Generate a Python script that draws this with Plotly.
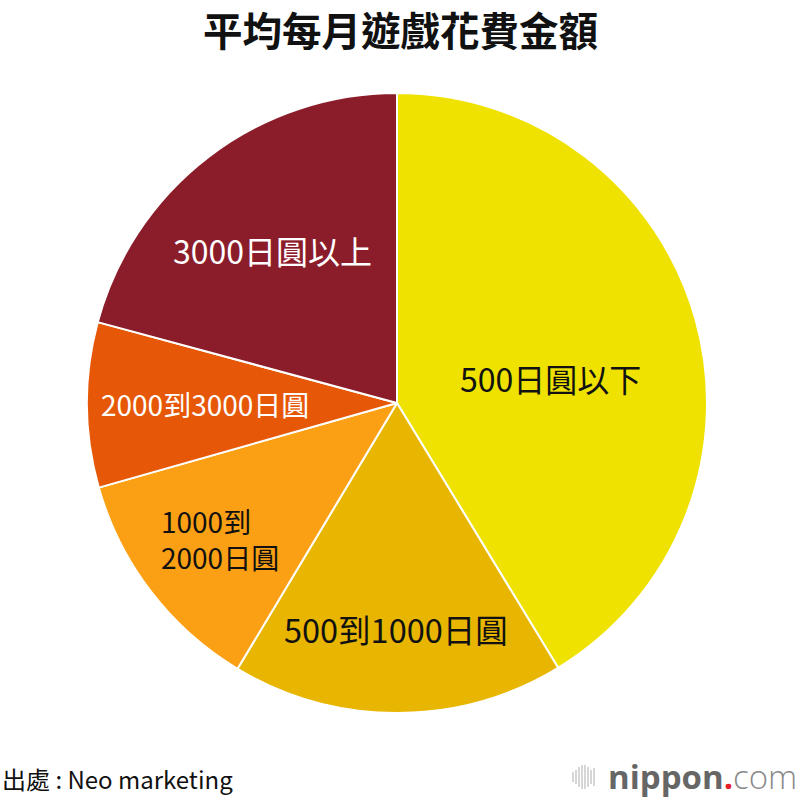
import math
import plotly.graph_objects as go

categories = ["500日圓以下", "500到1000日圓", "1000到2000日圓", "2000到3000日圓", "3000日圓以上"]
label_texts = ["500日圓以下", "500到1000日圓", "1000到<br>2000日圓", "2000到3000日圓", "3000日圓以上"]
shares = [41.3, 17.3, 12.0, 8.6, 20.8]
colors = ["#EFE200", "#E8B600", "#FBA014", "#E65807", "#8B1C2A"]
text_colors = ["#111111", "#111111", "#111111", "#FFFFFF", "#FFFFFF"]
text_sizes = [32, 32.5, 28, 28, 32]
label_radius = [0.503, 0.726, 0.72, 0.62, 0.636]   # fraction of pie radius
label_shift = [6.5, 0.5, 0.0, 0.0, -1.6]           # degrees added to slice mid-angle
label_align = ["center", "center", "left", "center", "center"]

FONT = "Noto Sans CJK TC"

CX, CY, R = 397 / 800, 1 - 403 / 800, 310 / 800

fig = go.Figure(go.Pie(
    labels=categories,
    values=shares,
    textinfo="none",
    sort=False,
    direction="clockwise",
    rotation=0,
    marker=dict(colors=colors, line=dict(color="white", width=2)),
    hoverinfo="label+value",
    domain=dict(x=[CX - R, CX + R], y=[CY - R, CY + R]),
    showlegend=False,
))

annotations = []
total = sum(shares)
cum = 0.0
for txt, v, col, sz, rf, sh, al in zip(label_texts, shares, text_colors, text_sizes,
                                       label_radius, label_shift, label_align):
    mid = (cum + v / 2) / total * 2 * math.pi + math.radians(sh)
    cum += v
    x = CX + rf * R * math.sin(mid)
    y = CY + rf * R * math.cos(mid)
    annotations.append(dict(text=txt, x=x, y=y, xref="paper", yref="paper",
                            xanchor="center", yanchor="middle", align=al, showarrow=False,
                            font=dict(family=FONT, size=sz, color=col)))

annotations += [
    dict(text="<b>平均每月遊戲花費金額</b>", x=0.5, y=1 - 28/800, xref="paper", yref="paper",
         xanchor="center", yanchor="middle", showarrow=False,
         font=dict(family=FONT, size=39.5, color="#111111")),
    dict(text="出處 : Neo marketing", x=0.0, y=1 - 778/800, xref="paper", yref="paper",
         xanchor="left", yanchor="middle", showarrow=False,
         font=dict(family=FONT, size=24, color="#111111")),
    dict(text="<b>nippon</b><span style='color:#E8202A'><b>.</b></span>"
              "<span style='color:#8A8A8A;font-weight:300'>com</span>",
         x=799/800, y=1 - 776/800, xref="paper", yref="paper",
         xanchor="right", yanchor="middle", showarrow=False,
         font=dict(family="Open Sans", size=33, color="#666666")),
]

fig.update_layout(
    width=800, height=800,
    margin=dict(l=0, r=0, t=0, b=0),
    paper_bgcolor="white",
    plot_bgcolor="white",
    annotations=annotations,
)

# small logo bars
bar_x = [573, 576, 579, 582, 585, 588, 591, 594]
bar_h = [10, 14, 20, 24, 24, 20, 14, 18]
for bx, bh in zip(bar_x, bar_h):
    fig.add_shape(type="line", xref="paper", yref="paper",
                  x0=bx/800, x1=bx/800, y0=1 - (777 + bh/2)/800, y1=1 - (777 - bh/2)/800,
                  line=dict(color="#BBBBBB", width=1.2))

fig.write_html("out.html", config={"displayModeBar": False},
               post_script="document.body.style.margin='0';")
